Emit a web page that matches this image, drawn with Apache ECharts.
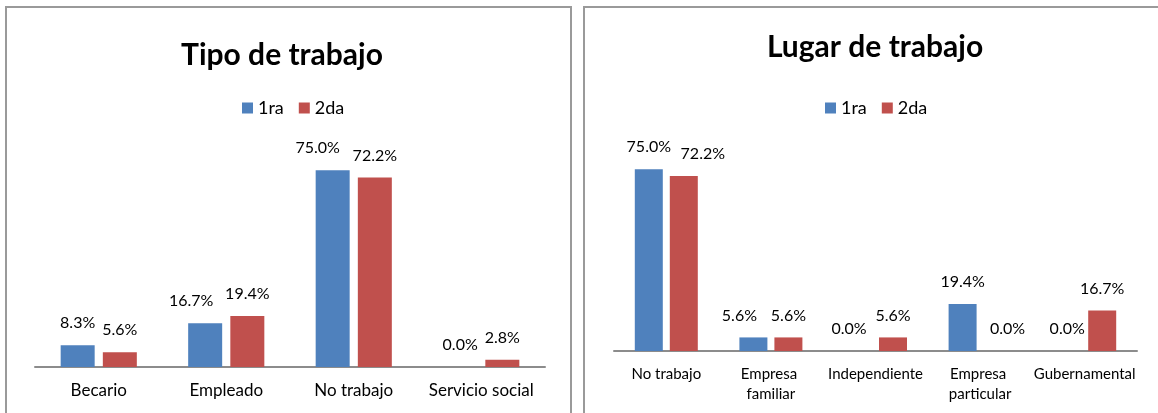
<!DOCTYPE html>
<html>
<head>
    <meta charset="utf-8">
    <title>Tipo y lugar de trabajo</title>
    <script src="https://cdn.jsdelivr.net/npm/echarts@6/dist/echarts.min.js"></script>
    <style>
        html, body { margin: 0; padding: 0; background: #fff; }
        #chart { width: 1158px; height: 413px; }
    </style>
</head>
<body>
    <div id="chart"></div>
    <script>
        const seriesNames = ['1ra', '2da'];

        const tipoCategories = ['Becario', 'Empleado', 'No trabajo', 'Servicio social'];
        const tipo1ra = [8.3, 16.7, 75.0, 0.0];
        const tipo2da = [5.6, 19.4, 72.2, 2.8];

        const lugarCategories = ['No trabajo', 'Empresa familiar', 'Independiente', 'Empresa particular', 'Gubernamental'];
        const lugar1ra = [75.0, 5.6, 0.0, 19.4, 0.0];
        const lugar2da = [72.2, 5.6, 5.6, 0.0, 16.7];

        // horizontal nudges of a few labels, like Excel does to keep them apart
        const tipoShift1 = [0, -14, -15, 0];
        const lugarShift1 = [0, -14, -9, 0, 0];
        const lugarShift2 = [19, 0, 0, 10, 0];

        const BLUE = '#4f81bd';
        const RED = '#c0504d';
        const FONT = 'Lato, "Liberation Sans", sans-serif';

        const chart = echarts.init(document.getElementById('chart'));

        function barSeries(name, values, color, axisIdx, width, gap, shift) {
            return {
                name: name,
                type: 'bar',
                xAxisIndex: axisIdx,
                yAxisIndex: axisIdx,
                barWidth: width,
                barGap: gap,
                itemStyle: { color: color },
                label: {
                    show: true,
                    position: 'top',
                    distance: 14,
                    color: '#000',
                    fontFamily: FONT,
                    fontSize: 16,
                    formatter: p => p.value.toFixed(1) + '%'
                },
                data: values.map((v, i) => ({
                    value: v,
                    label: shift ? { offset: [shift[i], 0] } : undefined
                }))
            };
        }

        const axisLine = { show: true, lineStyle: { color: '#8c8c8c', width: 2 } };
        const legendBase = {
            data: seriesNames, top: 99, padding: 0, itemWidth: 11, itemHeight: 11, itemGap: 15,
            icon: 'rect', textStyle: { fontFamily: FONT, fontSize: 18, color: '#000' }
        };

        const option = {
            animation: false,
            textStyle: { fontFamily: FONT },
            graphic: [
                { type: 'rect', shape: { x: 6, y: 7, width: 565, height: 440 },
                  style: { fill: 'none', stroke: '#9a9a9a', lineWidth: 2 } },
                { type: 'rect', shape: { x: 584, y: 7, width: 600, height: 440 },
                  style: { fill: 'none', stroke: '#9a9a9a', lineWidth: 2 } }
            ],
            title: [
                { text: 'Tipo de trabajo', left: 277, top: 35, textAlign: 'center',
                  textStyle: { fontFamily: FONT, fontSize: 30, fontWeight: 'bold', color: '#000' } },
                { text: 'Lugar de trabajo', left: 870, top: 27, textAlign: 'center',
                  textStyle: { fontFamily: FONT, fontSize: 30, fontWeight: 'bold', color: '#000' } }
            ],
            legend: [
                Object.assign({}, legendBase, { left: 242 }),
                Object.assign({}, legendBase, { left: 825 })
            ],
            grid: [
                { left: 35, width: 510, top: 157, bottom: 46 },
                { left: 614, width: 523, top: 157, bottom: 62 }
            ],
            xAxis: [
                { type: 'category', gridIndex: 0, data: tipoCategories, axisLine: axisLine,
                  axisTick: { show: false },
                  axisLabel: { color: '#000', fontFamily: FONT, fontSize: 17, margin: 15, interval: 0 } },
                { type: 'category', gridIndex: 1, data: lugarCategories, axisLine: axisLine,
                  axisTick: { show: false },
                  axisLabel: { color: '#000', fontFamily: FONT, fontSize: 15, margin: 13, interval: 0,
                               width: 104, overflow: 'break', lineHeight: 20 } }
            ],
            yAxis: [
                { type: 'value', gridIndex: 0, min: 0, max: 80, show: false },
                { type: 'value', gridIndex: 1, min: 0, max: 80, show: false }
            ],
            series: [
                barSeries(seriesNames[0], tipo1ra, BLUE, 0, 34, '24%', tipoShift1),
                barSeries(seriesNames[1], tipo2da, RED, 0, 34, '24%', null),
                barSeries(seriesNames[0], lugar1ra, BLUE, 1, 28, '25%', lugarShift1),
                barSeries(seriesNames[1], lugar2da, RED, 1, 28, '25%', lugarShift2)
            ]
        };
        chart.setOption(option);
    </script>
</body>
</html>
